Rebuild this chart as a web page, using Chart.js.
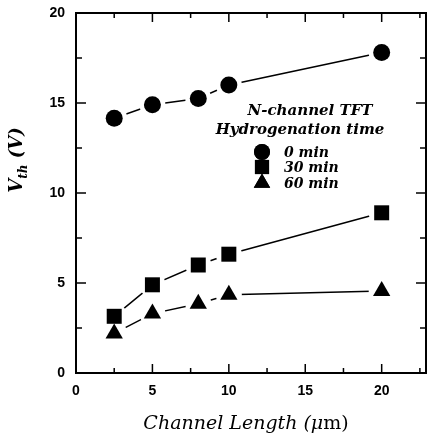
<!DOCTYPE html>
<html>
<head>
<meta charset="utf-8">
<script src="https://cdn.jsdelivr.net/npm/chart.js@4"></script>
<style>
  html, body { margin: 0; padding: 0; background: #fff; }
  #wrap { width: 428px; height: 443px; }
</style>
</head>
<body>
<div id="wrap"><canvas id="vthChart" width="428" height="443"></canvas></div>
<script>
// channel length (um) and threshold voltage per hydrogenation time
var channelLength = [2.5, 5, 8, 10, 20];
var vth0min = [14.15, 14.9, 15.25, 16.0, 17.8];
var vth30min = [3.15, 4.9, 6.0, 6.6, 8.9];
var vth60min = [2.2, 3.3, 3.85, 4.35, 4.55];
var xTicks = [0, 5, 10, 15, 20];
var yTicks = [0, 5, 10, 15, 20];
var seriesLabels = ['0 min', '30 min', '60 min'];

function pts(ys) {
  return channelLength.map(function(x, i) { return {x: x, y: ys[i]}; });
}

// white discs under markers so the lines stop short of each symbol
function lineSet(ys) {
  return {
    data: pts(ys),
    showLine: true,
    borderColor: '#000',
    borderWidth: 1.5,
    pointRadius: 13,
    pointStyle: 'circle',
    pointBackgroundColor: '#fff',
    pointBorderWidth: 0,
    tension: 0,
    order: 2
  };
}
function markerSet(ys, style, r) {
  return {
    data: pts(ys),
    showLine: false,
    pointStyle: style,
    pointRadius: r,
    pointBackgroundColor: '#000',
    pointBorderColor: '#000',
    pointBorderWidth: 0,
    order: 1
  };
}

var boxPlugin = {
  id: 'box',
  afterDraw: function(chart) {
    var ctx = chart.ctx, a = chart.chartArea;
    var xs = chart.scales.x, ys = chart.scales.y;
    ctx.save();
    ctx.strokeStyle = '#000';
    ctx.lineWidth = 2;
    ctx.strokeRect(a.left, a.top, a.right - a.left, a.bottom - a.top);
    ctx.lineWidth = 1.5;
    ctx.beginPath();
    for (var v = 2.5; v < xs.max; v += 2.5) {
      var px = xs.getPixelForValue(v);
      var len = (v % 5 === 0) ? 9 : 5;
      ctx.moveTo(px, a.bottom); ctx.lineTo(px, a.bottom - len);
      ctx.moveTo(px, a.top); ctx.lineTo(px, a.top + len);
    }
    for (var w = 2.5; w < ys.max; w += 2.5) {
      var py = ys.getPixelForValue(w);
      var l2 = (w % 5 === 0) ? 10 : 6;
      ctx.moveTo(a.left, py); ctx.lineTo(a.left + l2, py);
      ctx.moveTo(a.right, py); ctx.lineTo(a.right - l2, py);
    }
    ctx.stroke();

    // axis titles
    ctx.fillStyle = '#000';
    ctx.textBaseline = 'alphabetic';
    var parts = [
      ['italic 19px "DejaVu Serif"', 'Channel Length ('],
      ['italic 19px "DejaVu Serif"', 'μ'],
      ['19px "DejaVu Serif"', 'm)']
    ];
    var total = 0;
    parts.forEach(function(p) { ctx.font = p[0]; total += ctx.measureText(p[1]).width; });
    var tx = 246 - total / 2;
    parts.forEach(function(p) {
      ctx.font = p[0]; ctx.fillText(p[1], tx, 429); tx += ctx.measureText(p[1]).width;
    });

    ctx.save();
    ctx.translate(22, 160);
    ctx.rotate(-Math.PI / 2);
    ctx.font = 'bold italic 18px "DejaVu Serif"';
    var wV = ctx.measureText('V').width;
    ctx.font = 'bold italic 12px "DejaVu Serif"';
    var wth = ctx.measureText('th').width;
    ctx.font = 'bold italic 18px "DejaVu Serif"';
    var wP = ctx.measureText(' (V)').width;
    var sx = -(wV + wth + wP) / 2;
    ctx.fillText('V', sx, 0);
    ctx.font = 'bold italic 12px "DejaVu Serif"';
    ctx.fillText('th', sx + wV, 5);
    ctx.font = 'bold italic 18px "DejaVu Serif"';
    ctx.fillText(' (V)', sx + wV + wth, 0);
    ctx.restore();

    // in-plot legend
    ctx.textAlign = 'center';
    ctx.font = 'bold italic 15px "DejaVu Serif"';
    ctx.fillText('N-channel TFT', 310, 115);
    ctx.fillText('Hydrogenation time', 300, 134);
    var styles = [['circle', 8], ['rect', 10], ['triangle', 9.5]];
    var rowsY = [152, 167, 183];
    ctx.textAlign = 'left';
    ctx.font = 'bold italic 14px "DejaVu Serif"';
    styles.forEach(function(s, i) {
      Chart.helpers.drawPoint(ctx, {pointStyle: s[0], radius: s[1], rotation: 0, borderWidth: 0}, 262, rowsY[i]);
      ctx.fill();
      ctx.fillText(seriesLabels[i], 284, rowsY[i] + 5);
    });
    ctx.restore();
  }
};

var ctx = document.getElementById('vthChart').getContext('2d');
var myChart = new Chart(ctx, {
  type: 'scatter',
  data: {
    datasets: [
      lineSet(vth0min), lineSet(vth30min), lineSet(vth60min),
      markerSet(vth0min, 'circle', 8.5),
      markerSet(vth30min, 'rect', 10.6),
      markerSet(vth60min, 'triangle', 10)
    ]
  },
  options: {
    responsive: false,
    animation: false,
    layout: { autoPadding: false, padding: { top: 13, right: 2, left: 0, bottom: 0 } },
    scales: {
      x: {
        type: 'linear',
        min: 0,
        max: 22.9,
        afterBuildTicks: function(s) { s.ticks = xTicks.map(function(v) { return {value: v}; }); },
        afterFit: function(s) { s.height = 70; s.paddingLeft = 0; s.paddingRight = 0; },
        grid: { display: false, drawTicks: false },
        border: { display: false },
        ticks: { color: '#000', padding: 10, maxRotation: 0, font: { family: 'Liberation Sans', weight: 'bold', size: 14 } }
      },
      y: {
        min: 0,
        max: 20,
        afterBuildTicks: function(s) { s.ticks = yTicks.map(function(v) { return {value: v}; }); },
        afterFit: function(s) { s.width = 76; s.paddingTop = 0; s.paddingBottom = 0; },
        grid: { display: false, drawTicks: false },
        border: { display: false },
        ticks: { color: '#000', padding: 11, font: { family: 'Liberation Sans', weight: 'bold', size: 14 } }
      }
    },
    plugins: {
      legend: { display: false },
      tooltip: { enabled: false }
    }
  },
  plugins: [boxPlugin]
});
</script>
</body>
</html>
